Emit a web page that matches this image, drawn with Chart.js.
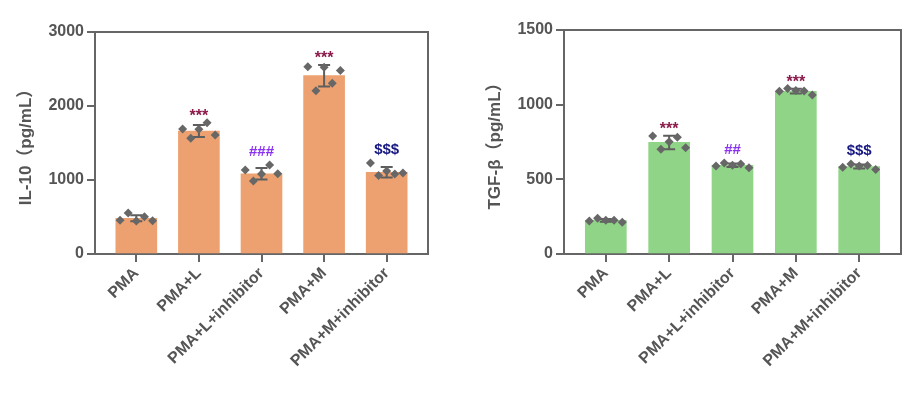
<!DOCTYPE html>
<html>
<head>
<meta charset="utf-8">
<script src="https://cdn.jsdelivr.net/npm/chart.js@4.4.0/dist/chart.umd.min.js"></script>
<style>
  html, body { margin: 0; padding: 0; background: #fff; }
  #wrap { position: relative; width: 910px; height: 394px; overflow: hidden; }
  .box { position: absolute; top: 0; height: 394px; }
</style>
</head>
<body>
<div id="wrap">
  <div class="box" style="left:0;width:440px"><canvas id="c1"></canvas></div>
  <div class="box" style="left:469px;width:441px"><canvas id="c2"></canvas></div>
</div>
<script>
const groups = ['PMA', 'PMA+L', 'PMA+L+inhibitor', 'PMA+M', 'PMA+M+inhibitor'];

// IL-10 (pg/mL)
const il10Mean = [482, 1662, 1085, 2410, 1105];
const il10Sd = [40, 80, 77, 145, 70];
const il10Points = [
  [455, 555, 445, 505, 450],
  [1689, 1563, 1685, 1775, 1608],
  [1135, 986, 1081, 1203, 1083],
  [2531, 2207, 2525, 2307, 2480],
  [1230, 1060, 1120, 1080, 1095]
];
const il10Marks = ['', '***', '###', '***', '$$$'];
const il10Ticks = [0, 1000, 2000, 3000];

// TGF-beta (pg/mL)
const tgfMean = [225, 747, 594, 1090, 586];
const tgfSd = [9, 45, 12, 16, 14];
const tgfPoints = [
  [221, 239, 226, 226, 212],
  [790, 701, 752, 781, 712],
  [589, 609, 594, 603, 578],
  [1090, 1108, 1095, 1092, 1065],
  [581, 603, 590, 592, 566]
];
const tgfMarks = ['', '***', '##', '***', '$$$'];
const tgfTicks = [0, 500, 1000, 1500];

const FONT = "'Liberation Sans', Arial, 'Noto Sans CJK SC', sans-serif";
const TXT = '#555';
const AXIS = '#666';
const markColor = { '*': '#8b1a4b', '#': '#8a32f0', '$': '#161682' };
const jitter = [-0.26, -0.13, 0, 0.13, 0.26];

Chart.defaults.font.family = FONT;

function makeChart(id, o) {
  const extras = {
    id: 'extras',
    afterDatasetDraw(chart, args) {
      if (args.index !== 0) return;
      const { ctx, scales: { x, y } } = chart;
      ctx.save();
      ctx.strokeStyle = '#5e5e5e';
      ctx.lineWidth = 2;
      o.mean.forEach((m, i) => {
        const cx = x.getPixelForValue(i);
        const t = y.getPixelForValue(m + o.sd[i]);
        const b = y.getPixelForValue(m - o.sd[i]);
        ctx.beginPath();
        ctx.moveTo(cx, t); ctx.lineTo(cx, b);
        ctx.moveTo(cx - 6, t); ctx.lineTo(cx + 6, t);
        ctx.moveTo(cx - 6, b); ctx.lineTo(cx + 6, b);
        ctx.stroke();
      });
      ctx.restore();
    },
    afterDraw(chart) {
      const { ctx, chartArea: a, scales: { x, y } } = chart;
      ctx.save();
      o.marks.forEach((s, i) => {
        if (!s) return;
        const top = Math.max(o.mean[i] + o.sd[i], ...o.points[i]);
        const py = y.getPixelForValue(top);
        const star = s[0] === '*';
        ctx.font = 'bold ' + (star ? 16 : 15) + 'px ' + FONT;
        ctx.fillStyle = markColor[s[0]];
        ctx.textAlign = 'center';
        ctx.textBaseline = 'alphabetic';
        ctx.fillText(s, x.getPixelForValue(i), star ? py - 2 : py - 9);
      });
      ctx.strokeStyle = AXIS;
      ctx.lineWidth = 2;
      ctx.beginPath();
      ctx.moveTo(a.left, a.top); ctx.lineTo(a.right, a.top); ctx.lineTo(a.right, a.bottom);
      ctx.stroke();
      ctx.restore();
    }
  };

  const scatter = [];
  o.points.forEach((arr, i) => arr.forEach((v, k) => scatter.push({ x: i + jitter[k], y: v })));

  new Chart(document.getElementById(id), {
    type: 'bar',
    data: {
      datasets: [
        {
          type: 'bar',
          order: 2,
          data: o.mean.map((m, i) => ({ x: i, y: m })),
          backgroundColor: o.color,
          barThickness: 41
        },
        {
          type: 'scatter',
          order: 1,
          data: scatter,
          pointStyle: 'rectRot',
          pointRadius: 4.5,
          backgroundColor: '#676767',
          borderWidth: 0
        }
      ]
    },
    options: {
      responsive: true,
      maintainAspectRatio: false,
      animation: false,
      layout: { padding: { top: o.top, right: o.right, left: 0, bottom: 0 } },
      plugins: { legend: { display: false }, tooltip: { enabled: false } },
      scales: {
        x: {
          type: 'linear',
          offset: false,
          min: -0.66,
          max: 4.66,
          afterBuildTicks: s => { s.ticks = groups.map((g, i) => ({ value: i })); },
          afterFit: s => { s.height = 140; },
          ticks: {
            callback: v => groups[v],
            autoSkip: false,
            minRotation: 45,
            maxRotation: 45,
            padding: 2,
            color: TXT,
            font: { size: 16, weight: 'bold' }
          },
          grid: { offset: false, drawOnChartArea: false, tickLength: 8, color: AXIS, lineWidth: 2 },
          border: { color: AXIS, width: 2 }
        },
        y: {
          min: 0,
          max: o.ticks[o.ticks.length - 1],
          afterBuildTicks: s => { s.ticks = o.ticks.map(v => ({ value: v })); },
          afterFit: s => { s.width = 95; },
          ticks: { color: TXT, padding: 3, callback: v => String(v), font: { size: 16, weight: 'bold' } },
          grid: { drawOnChartArea: false, tickLength: 8, color: AXIS, lineWidth: 2 },
          border: { color: AXIS, width: 2 },
          title: {
            display: true,
            text: o.title,
            color: TXT,
            font: { size: 17, weight: 'bold' },
            padding: { top: 16, bottom: 0 }
          }
        }
      }
    },
    plugins: [extras]
  });
}

makeChart('c1', {
  mean: il10Mean, sd: il10Sd, points: il10Points, marks: il10Marks, ticks: il10Ticks,
  title: 'IL-10（pg/mL）', color: '#eea170', top: 32, right: 12
});
makeChart('c2', {
  mean: tgfMean, sd: tgfSd, points: tgfPoints, marks: tgfMarks, ticks: tgfTicks,
  title: 'TGF-β（pg/mL）', color: '#8fd487', top: 30, right: 9
});
</script>
</body>
</html>
